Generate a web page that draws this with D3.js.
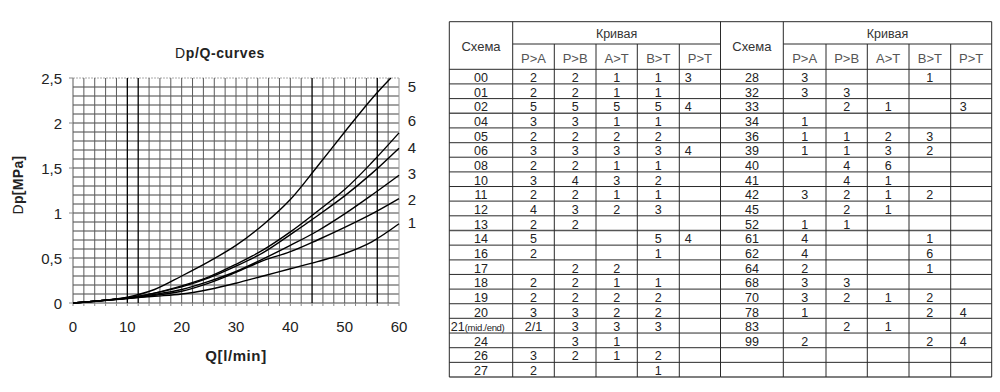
<!DOCTYPE html>
<html><head><meta charset="utf-8">
<script src="https://cdn.jsdelivr.net/npm/d3@7"></script>
<style>
body{margin:0;background:#fff;}
svg{display:block;font-family:"Liberation Sans",Arial,Helvetica,sans-serif;}
</style>
</head><body>
<svg id="chart" width="1000" height="392"></svg>
<script>
// ---------------- DATA ----------------
const flow      = [0, 5, 10, 15, 20, 25, 30, 35, 40, 45, 50, 55, 60];
const flow5     = [0, 5, 10, 15, 20, 25, 30, 35, 40, 45, 50, 55, 58.5];
const curve1 = [0, 0.025, 0.05, 0.075, 0.10, 0.15, 0.22, 0.30, 0.38, 0.46, 0.55, 0.68, 0.88];
const curve2 = [0, 0.025, 0.05, 0.085, 0.13, 0.22, 0.34, 0.47, 0.57, 0.70, 0.84, 0.99, 1.16];
const curve3 = [0, 0.025, 0.055, 0.095, 0.15, 0.24, 0.35, 0.49, 0.64, 0.80, 0.99, 1.20, 1.42];
const curve4 = [0, 0.025, 0.055, 0.11, 0.18, 0.28, 0.41, 0.56, 0.76, 0.97, 1.19, 1.44, 1.72];
const curve5 = [0, 0.025, 0.065, 0.15, 0.30, 0.46, 0.64, 0.87, 1.15, 1.52, 1.90, 2.27, 2.50];
const curve6 = [0, 0.025, 0.055, 0.11, 0.19, 0.29, 0.43, 0.59, 0.79, 1.02, 1.26, 1.56, 1.89];
const curveNames   = ["1", "2", "3", "4", "5", "6"];
const curveLabelAt = [0.89, 1.15, 1.44, 1.73, 2.41, 2.03]; // label height in MPa
const xTicks = [0, 10, 20, 30, 40, 50, 60];
const yTicks = [0, 0.5, 1, 1.5, 2, 2.5];
const yTickLabels = ["0", "0,5", "1", "1,5", "2", "2,5"];
const strongGridQ = [10, 12, 44, 56];

const tableColumns = ["P>A", "P>B", "A>T", "B>T", "P>T"];
const leftScheme = ["00","01","02","04","05","06","08","10","11","12","13","14","16","17","18","19","20","21","24","26","27"];
const leftPA = ["2","2","5","3","2","3","2","3","2","4","2","5","2","","2","2","3","2/1","","3","2"];
const leftPB = ["2","2","5","3","2","3","2","4","2","3","2","","","2","2","2","3","3","3","2",""];
const leftAT = ["1","1","5","1","2","3","1","3","1","2","","","","2","1","2","2","3","1","1",""];
const leftBT = ["1","1","5","1","2","3","1","2","1","3","","5","1","","1","2","2","3","","2","1"];
const leftPT = ["3","","4","","","4","","","","","","4","","","","","","","","",""];
const rightScheme = ["28","32","33","34","36","39","40","41","42","45","52","61","62","64","68","70","78","83","99","",""];
const rightPA = ["3","3","","1","1","1","","","3","","1","4","4","2","3","3","1","","2","",""];
const rightPB = ["","3","2","","1","1","4","4","2","2","1","","","","3","2","","2","","",""];
const rightAT = ["","","1","","2","3","6","1","1","1","","","","","","1","","1","","",""];
const rightBT = ["1","","","","3","2","","","2","","","1","6","1","","2","2","","2","",""];
const rightPT = ["","","3","","","","","","","","","","","","","","4","","4","",""];

// ---------------- CHART ----------------
const svg = d3.select("#chart");
const x = d3.scaleLinear().domain([0, 60]).range([73, 399]);
const y = d3.scaleLinear().domain([0, 2.5]).range([303, 78]);

const g = svg.append("g");

// grid
g.append("g").selectAll("line").data(d3.range(0, 26)).join("line")
  .attr("x1", x(0)).attr("x2", x(60))
  .attr("y1", d => y(d / 10)).attr("y2", d => y(d / 10))
  .attr("stroke", d => d === 25 ? "#aaa" : "#444").attr("stroke-width", 1)
  .attr("stroke-dasharray", d => d === 25 ? "2,1" : null);
g.append("g").selectAll("line").data(d3.range(0, 31)).join("line")
  .attr("x1", d => x(d * 2)).attr("x2", d => x(d * 2))
  .attr("y1", y(0)).attr("y2", y(2.5))
  .attr("stroke", d => strongGridQ.includes(d * 2) ? "#000" : (d === 30 ? "#999" : "#5a5a5a"))
  .attr("stroke-width", d => strongGridQ.includes(d * 2) ? 1.3 : 1);

// bottom ticks
g.append("g").selectAll("line").data(d3.range(0, 31)).join("line")
  .attr("x1", d => x(d * 2)).attr("x2", d => x(d * 2))
  .attr("y1", y(0)).attr("y2", y(0) + 3).attr("stroke", "#888");
// left ticks
g.append("g").selectAll("line").data(yTicks).join("line")
  .attr("x1", x(0) - 4).attr("x2", x(0)).attr("y1", d => y(d)).attr("y2", d => y(d)).attr("stroke", "#888");

// axis labels
g.append("g").selectAll("text").data(yTicks).join("text")
  .attr("x", 62).attr("y", d => y(d) + 5.5).attr("text-anchor", "end")
  .attr("font-size", 15).attr("fill", "#222")
  .text((d, i) => yTickLabels[i]);
g.append("g").selectAll("text").data(xTicks).join("text")
  .attr("x", d => x(d)).attr("y", 332).attr("text-anchor", "middle")
  .attr("font-size", 15).attr("fill", "#222").text(d => d);

// curves
const series = [
  {name: "1", q: flow, v: curve1},
  {name: "2", q: flow, v: curve2},
  {name: "3", q: flow, v: curve3},
  {name: "4", q: flow, v: curve4},
  {name: "5", q: flow5, v: curve5},
  {name: "6", q: flow, v: curve6}
];
const line = d3.line().x(d => x(d[0])).y(d => y(d[1])).curve(d3.curveCatmullRom.alpha(0.5));
g.append("g").selectAll("path").data(series).join("path")
  .attr("d", s => line(s.q.map((q, i) => [q, s.v[i]])))
  .attr("fill", "none").attr("stroke", "#000").attr("stroke-width", 1.4);

// curve labels
g.append("g").selectAll("text").data(curveNames).join("text")
  .attr("x", 412).attr("y", (d, i) => y(curveLabelAt[i]) + 5.5)
  .attr("text-anchor", "middle").attr("font-size", 15).attr("fill", "#222").text(d => d);

// title
const title = g.append("text").attr("x", 220).attr("y", 58).attr("text-anchor", "middle")
  .attr("font-size", 14).attr("fill", "#222").attr("letter-spacing", 0.6);
title.append("tspan").attr("font-weight", "normal").text("D");
title.append("tspan").attr("font-weight", "bold").text("p/Q-curves");

// y label
const yl = g.append("text").attr("transform", "translate(23,185) rotate(-90)")
  .attr("text-anchor", "middle").attr("font-size", 14).attr("fill", "#222").attr("letter-spacing", 0.3);
yl.append("tspan").attr("font-weight", "normal").text("D");
yl.append("tspan").attr("font-weight", "bold").text("p[MPa]");

// x label
g.append("text").attr("x", 236).attr("y", 361).attr("text-anchor", "middle")
  .attr("font-size", 15).attr("font-weight", "bold").attr("fill", "#222").attr("letter-spacing", 0.6)
  .text("Q[l/min]");

// ---------------- TABLE ----------------
const tableTop = 21.7, headMid = 44, headBottom = 69.3, tableBottom = 377;
const rows = d3.scaleBand().domain(d3.range(leftScheme.length)).range([headBottom, tableBottom]);
const blocks = [
  {edges: [449.3, 512.7, 554.3, 596, 637.3, 679.3, 720.5], scheme: leftScheme,
   cols: [leftPA, leftPB, leftAT, leftBT, leftPT], ptOffset: 9},
  {edges: [720.5, 783.3, 826, 867.3, 909, 950.7, 991.7], scheme: rightScheme,
   cols: [rightPA, rightPB, rightAT, rightBT, rightPT], ptOffset: 12.5}
];
const tg = svg.append("g");
const lineColor = "#2a2a2a";

blocks.forEach(b => {
  const e = b.edges;
  // headers
  tg.append("text").attr("x", (e[0] + e[1]) / 2).attr("y", 50.5).attr("text-anchor", "middle")
    .attr("font-size", 13).attr("fill", "#333").text("Схема");
  tg.append("text").attr("x", (e[1] + e[6]) / 2).attr("y", 38).attr("text-anchor", "middle")
    .attr("font-size", 12.5).attr("fill", "#333").text("Кривая");
  tg.append("g").selectAll("text").data(tableColumns).join("text")
    .attr("x", (d, i) => (e[i + 1] + e[i + 2]) / 2).attr("y", 62.5).attr("text-anchor", "middle")
    .attr("font-size", 13).attr("fill", "#555").text(d => d);

  // horizontal lines
  tg.append("line").attr("x1", e[1]).attr("x2", e[6]).attr("y1", headMid).attr("y2", headMid)
    .attr("stroke", lineColor);
  tg.append("g").selectAll("line").data(d3.range(0, b.scheme.length + 1)).join("line")
    .attr("x1", e[0]).attr("x2", e[6])
    .attr("y1", i => i === b.scheme.length ? tableBottom : rows(i))
    .attr("y2", i => i === b.scheme.length ? tableBottom : rows(i))
    .attr("stroke", (i) => i % 2 ? "#555" : lineColor).attr("stroke-width", (i) => i % 2 ? 1.3 : 1);
  // vertical lines
  tg.append("g").selectAll("line").data(e).join("line")
    .attr("x1", d => d).attr("x2", d => d)
    .attr("y1", (d, i) => (i >= 2 && i <= 5) ? headMid : tableTop).attr("y2", tableBottom)
    .attr("stroke", lineColor).attr("stroke-width", 1);

  // scheme column
  tg.append("g").selectAll("text").data(b.scheme).join("text")
    .attr("x", (d) => d === "21" ? e[0] + 1.5 : (e[0] + e[1]) / 2)
    .attr("y", (d, i) => rows(i) + 12.8)
    .attr("text-anchor", d => d === "21" ? "start" : "middle")
    .attr("font-size", 12.5).attr("fill", "#222")
    .each(function(d) {
      const t = d3.select(this);
      if (d === "21") {
        t.append("tspan").text("21");
        t.append("tspan").attr("font-size", 9.5).attr("letter-spacing", -0.3).text("(mid./end)");
      } else t.text(d);
    });
  // value columns
  b.cols.forEach((col, ci) => {
    tg.append("g").selectAll("text").data(col).join("text")
      .attr("x", ci === 4 ? e[ci + 1] + b.ptOffset : (e[ci + 1] + e[ci + 2]) / 2)
      .attr("y", (d, i) => rows(i) + 12.8)
      .attr("text-anchor", "middle").attr("font-size", 12.5).attr("fill", "#222")
      .text(d => d);
  });
});
// outer top border
tg.append("line").attr("x1", 449.3).attr("x2", 991.7).attr("y1", tableTop).attr("y2", tableTop).attr("stroke", lineColor);
</script>
</body></html>
